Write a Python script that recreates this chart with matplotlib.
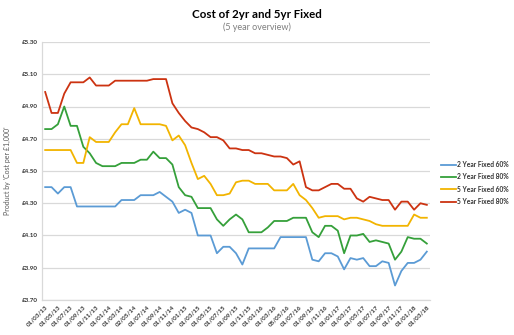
import matplotlib
matplotlib.use("Agg")
import matplotlib.pyplot as plt

plt.rcParams['font.family'] = ['Lato', 'DejaVu Sans']

tick_labels = ["01/03/13", "01/05/13", "01/07/13", "01/09/13", "01/11/13",
               "01/01/14", "01/03/14", "02/05/14", "01/07/14", "01/09/14", "01/11/14",
               "01/01/15", "01/03/15", "01/05/15", "01/07/15", "01/09/15", "01/11/15",
               "01/01/16", "01/03/16", "05/05/16", "01/07/16", "01/09/16", "01/11/16",
               "01/01/17", "01/03/17", "01/05/17", "01/07/17", "01/09/17", "01/11/17",
               "01/01/18", "01/03/18"]

fixed2_60 = [4.40, 4.40, 4.36, 4.40, 4.40, 4.28, 4.28, 4.28, 4.28, 4.28,
             4.28, 4.28, 4.32, 4.32, 4.32, 4.35, 4.35, 4.35, 4.37, 4.34,
             4.31, 4.24, 4.26, 4.24, 4.10, 4.10, 4.10, 3.99, 4.03, 4.03,
             3.99, 3.92, 4.02, 4.02, 4.02, 4.02, 4.02, 4.09, 4.09, 4.09,
             4.09, 4.09, 3.95, 3.94, 3.99, 3.99, 3.97, 3.89, 3.96, 3.95,
             3.96, 3.91, 3.91, 3.94, 3.93, 3.79, 3.88, 3.93, 3.93, 3.95,
             4.00]

fixed2_80 = [4.76, 4.76, 4.79, 4.90, 4.78, 4.78, 4.65, 4.61, 4.55, 4.53,
             4.53, 4.53, 4.55, 4.55, 4.55, 4.57, 4.57, 4.62, 4.58, 4.58,
             4.54, 4.40, 4.35, 4.34, 4.27, 4.27, 4.27, 4.20, 4.16, 4.20,
             4.23, 4.20, 4.12, 4.12, 4.12, 4.15, 4.19, 4.19, 4.19, 4.21,
             4.21, 4.21, 4.12, 4.09, 4.16, 4.16, 4.13, 3.99, 4.10, 4.10,
             4.11, 4.06, 4.07, 4.06, 4.05, 3.95, 4.00, 4.09, 4.08, 4.08,
             4.05]

fixed5_60 = [4.63, 4.63, 4.63, 4.63, 4.63, 4.55, 4.55, 4.71, 4.68, 4.68,
             4.68, 4.74, 4.79, 4.79, 4.89, 4.79, 4.79, 4.79, 4.79, 4.78,
             4.69, 4.72, 4.66, 4.55, 4.45, 4.47, 4.42, 4.35, 4.35, 4.36,
             4.43, 4.44, 4.44, 4.42, 4.42, 4.42, 4.38, 4.38, 4.38, 4.42,
             4.35, 4.32, 4.27, 4.21, 4.22, 4.22, 4.22, 4.20, 4.21, 4.21,
             4.20, 4.19, 4.17, 4.16, 4.16, 4.16, 4.16, 4.16, 4.23, 4.21,
             4.21]

fixed5_80 = [4.99, 4.86, 4.86, 4.98, 5.05, 5.05, 5.05, 5.08, 5.03, 5.03,
             5.03, 5.06, 5.06, 5.06, 5.06, 5.06, 5.06, 5.07, 5.07, 5.07,
             4.92, 4.86, 4.81, 4.77, 4.76, 4.74, 4.71, 4.71, 4.69, 4.64,
             4.64, 4.63, 4.63, 4.61, 4.61, 4.60, 4.59, 4.59, 4.58, 4.54,
             4.56, 4.40, 4.38, 4.38, 4.40, 4.42, 4.42, 4.39, 4.39, 4.33,
             4.31, 4.34, 4.33, 4.32, 4.32, 4.26, 4.31, 4.31, 4.26, 4.30,
             4.29]

series = [
    ("2 Year Fixed 60%", fixed2_60, "#5b9bd5"),
    ("2 Year Fixed 80%", fixed2_80, "#35a03a"),
    ("5 Year Fixed 60%", fixed5_60, "#f2b400"),
    ("5 Year Fixed 80%", fixed5_80, "#cc3311"),
]

fig = plt.figure(figsize=(5.14, 3.35), dpi=100)
ax = fig.add_axes([42/514, 1-300/335, (430-42)/514, (300-42)/335])

x = list(range(len(fixed2_60)))
for name, vals, col in series:
    ax.plot(x, vals, color=col, lw=1.3, label=name, solid_joinstyle='round')

ax.set_xlim(-0.5, len(x) - 0.5)
ax.set_ylim(3.70, 5.30)
yt = [3.70 + 0.2*i for i in range(9)]
ax.set_yticks(yt)
ax.set_yticklabels([f"£{v:.2f}" for v in yt], fontsize=4.5, fontweight='bold', color='#333333')
ax.set_xticks(x[::2])
ax.set_xticklabels(tick_labels, rotation=45, ha='right', rotation_mode='anchor',
                   fontsize=4.5, fontweight='bold', color='#333333')
ax.tick_params(axis='both', length=0, pad=3)
ax.grid(axis='y', color='#d9d9d9', lw=0.9)
ax.set_axisbelow(True)
for s in ['top', 'right']:
    ax.spines[s].set_visible(False)
ax.spines['left'].set_color('#d9d9d9')
ax.spines['bottom'].set_color('#d9d9d9')
ax.spines['left'].set_linewidth(0.9)
ax.spines['bottom'].set_linewidth(0.9)

ax.set_ylabel("Product by 'Cost per £1,000'", fontsize=5, color='#595959', labelpad=8)

fig.text(257/514, 1-14/335, "Cost of 2yr and 5yr Fixed", ha='center', va='center',
         fontsize=8.3, fontweight='bold', color='#000000')
fig.text(257/514, 1-27/335, "(5 year overview)", ha='center', va='center',
         fontsize=6.5, color='#7f7f7f')

leg = fig.legend(loc='upper left', bbox_to_anchor=(441/514, 1-161/335), frameon=False,
                 fontsize=4.8, handlelength=2.3, handletextpad=0.15, labelspacing=0.8,
                 borderpad=0, borderaxespad=0)
for t in leg.get_texts():
    t.set_fontweight('bold')
    t.set_color('#333333')

fig.savefig("out.png", dpi=100)
